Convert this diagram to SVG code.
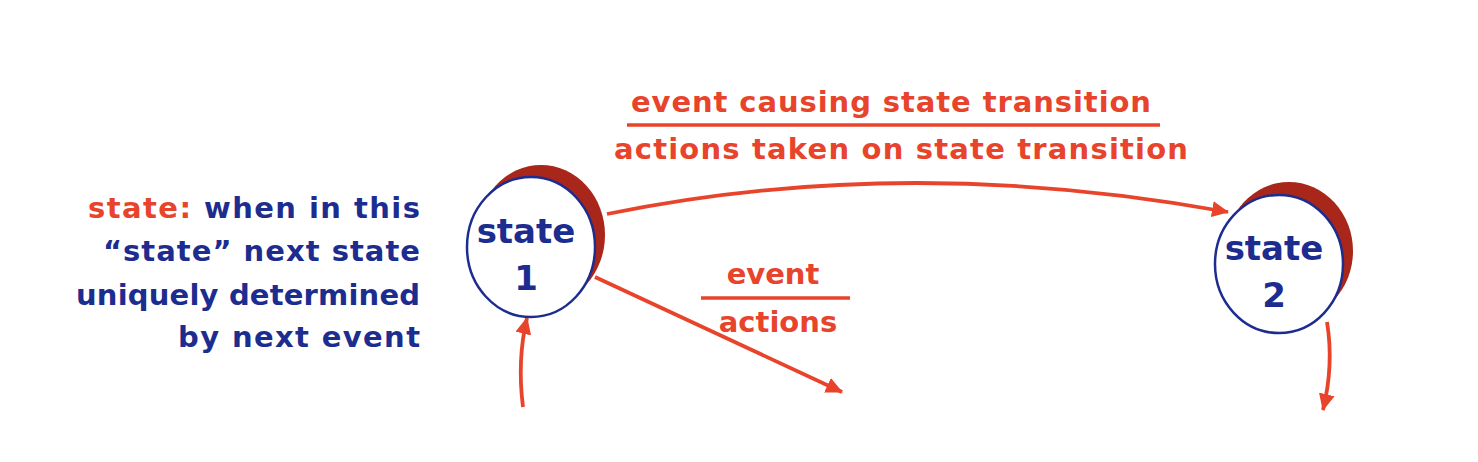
<svg xmlns="http://www.w3.org/2000/svg" width="1478" height="462" viewBox="0 0 1478 462">
<style>
.red{fill:#e8432b}
.blue{fill:#1c2d8f}
.t{font-family:"DejaVu Sans","Liberation Sans",sans-serif;font-weight:bold}
.edge{fill:none;stroke:#e8432b;stroke-width:3.8}
.bar{stroke:#e8432b;stroke-width:3.5}
.shadow{fill:#a8261a}
.node{fill:#fff;stroke:#1c2d8f;stroke-width:2.5}
</style>
<defs>
<marker id="ah" markerUnits="userSpaceOnUse" markerWidth="20" markerHeight="16" refX="16" refY="8" orient="auto">
<path d="M0,0 L17,8 L0,16 Z" fill="#e8432b"/>
</marker>
</defs>
<rect width="1478" height="462" fill="#fff"/>
<g id="description" class="t" font-size="29" text-anchor="end">
<text x="420" y="218" textLength="332" lengthAdjust="spacing"><tspan class="red">state:</tspan><tspan class="blue"> when in this</tspan></text>
<text x="420" y="261" class="blue" textLength="317" lengthAdjust="spacing">“state” next state</text>
<text x="420" y="305" class="blue" textLength="344" lengthAdjust="spacing">uniquely determined</text>
<text x="420" y="347" class="blue" textLength="242" lengthAdjust="spacing">by next event</text>
</g>
<g id="connectors">
<path class="edge" d="M607,214 Q905,153 1228,212" marker-end="url(#ah)"/>
<path class="edge" d="M595,277 L842,392" marker-end="url(#ah)"/>
<path class="edge" d="M523,407 Q517,360 527,318" marker-end="url(#ah)"/>
<path class="edge" d="M1327,322 Q1334,365 1323,410" marker-end="url(#ah)"/>
</g>
<g id="label-main" class="t red" font-size="29" text-anchor="middle">
<text x="891" y="112" textLength="520" lengthAdjust="spacing">event causing state transition</text>
<line class="bar" x1="627" y1="125" x2="1160" y2="125"/>
<text x="901" y="159" textLength="574" lengthAdjust="spacing">actions taken on state transition</text>
</g>
<g id="label-self" class="t red" font-size="29" text-anchor="middle">
<text x="773" y="284">event</text>
<line class="bar" x1="701" y1="298" x2="850" y2="298"/>
<text x="778" y="332">actions</text>
</g>
<g id="state1">
<ellipse class="shadow" cx="541" cy="235" rx="64" ry="70"/>
<ellipse class="node" cx="531" cy="247" rx="64" ry="70"/>
<text class="t blue" font-size="34" text-anchor="middle" x="526" y="243">state</text>
<text class="t blue" font-size="34" text-anchor="middle" x="526" y="290">1</text>
</g>
<g id="state2">
<ellipse class="shadow" cx="1289" cy="251" rx="64" ry="69"/>
<ellipse class="node" cx="1279" cy="264" rx="64" ry="69"/>
<text class="t blue" font-size="34" text-anchor="middle" x="1274" y="260">state</text>
<text class="t blue" font-size="34" text-anchor="middle" x="1274" y="307">2</text>
</g>
</svg>
